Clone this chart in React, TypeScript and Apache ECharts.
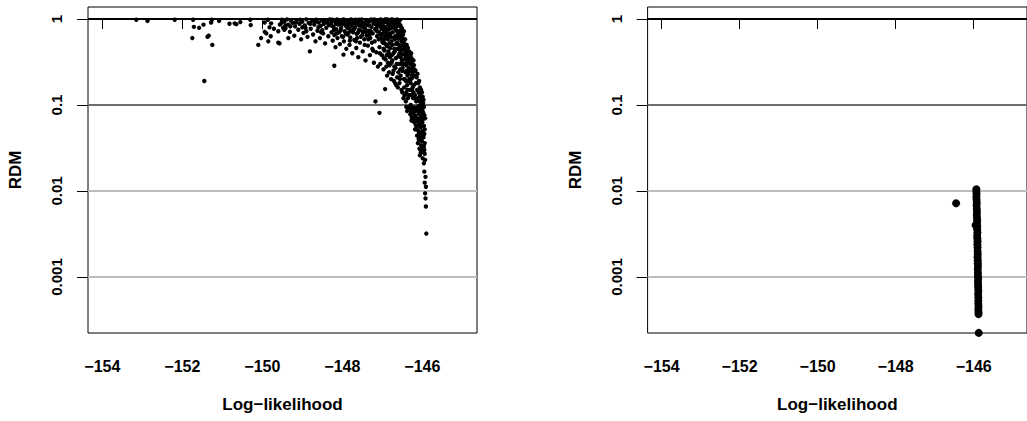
import React, { useEffect, useRef } from "react";
import * as echarts from "echarts";

// Axis ticks and labels
const xTicks = [-154, -152, -150, -148, -146];
const yTickValues = [0.001, 0.01, 0.1, 1];
const yTickLabels = ["0.001", "0.01", "0.1", "1"];
const refLineValues = [1, 0.1, 0.01, 0.001];
const refLineColors = ["#000000", "#6e6e6e", "#bdbdbd", "#bdbdbd"];
const xTitle = "Log\u2212likelihood";
const yTitle = "RDM";

// Left panel: [log-likelihood, RDM]
const leftSparse: number[][] = [
  [-153.15, 0.98], [-152.87, 0.95], [-152.19, 0.98], [-151.73, 0.98], [-151.71, 0.81],
  [-151.58, 0.79], [-151.47, 0.86], [-151.28, 0.91], [-151.26, 0.98], [-151.08, 0.95],
  [-151.75, 0.6], [-151.37, 0.62], [-151.34, 0.64], [-151.25, 0.5], [-151.45, 0.19],
  [-150.82, 0.88], [-150.69, 0.89], [-150.65, 0.87], [-150.55, 0.92], [-150.3, 0.98],
  [-150.29, 0.85], [-149.94, 0.91], [-149.86, 0.98], [-149.78, 0.89], [-149.82, 0.8],
  [-149.71, 0.77], [-149.94, 0.71], [-149.9, 0.68], [-149.79, 0.63], [-150.03, 0.6],
  [-149.57, 0.52], [-149.6, 0.72], [-149.56, 0.86], [-149.52, 0.9], [-149.48, 0.79],
  [-149.45, 0.75], [-149.42, 0.84], [-149.51, 0.98],
];

const leftBand: number[][] = [
  [-149.45, 0.93], [-149.42, 0.78], [-149.38, 0.99], [-149.35, 0.86], [-149.31, 0.71],
  [-149.28, 0.95], [-149.24, 0.9], [-149.2, 0.64], [-149.18, 0.82], [-149.14, 0.97],
  [-149.1, 0.75], [-149.07, 0.88], [-149.03, 0.58], [-149.0, 0.93], [-148.97, 0.69],
  [-148.94, 0.84], [-148.9, 0.99], [-148.87, 0.62], [-148.84, 0.9], [-148.81, 0.42],
  [-148.79, 0.77], [-148.76, 0.95], [-148.73, 0.66], [-148.7, 0.86], [-148.67, 0.55],
  [-148.65, 0.98], [-148.62, 0.73], [-148.59, 0.91], [-148.56, 0.6], [-148.54, 0.83],
  [-148.51, 0.96], [-148.48, 0.68], [-148.46, 0.88], [-148.43, 0.52], [-148.4, 0.79],
  [-148.38, 0.94], [-148.35, 0.63], [-148.33, 0.85], [-148.31, 0.99], [-149.6, 0.53],
  [-149.85, 0.55], [-150.1, 0.5], [-149.35, 0.6], [-149.0, 0.8], [-148.9, 0.72],
  [-148.7, 0.97], [-148.5, 0.74], [-148.2, 0.286], [-147.97, 0.385],
  [-149.3, 0.82], [-149.16, 0.91], [-149.05, 0.98], [-148.92, 0.79], [-148.8, 0.88],
  [-148.68, 0.92], [-148.6, 0.8], [-148.53, 0.7], [-148.44, 0.97], [-148.36, 0.89],
];

const leftDense: number[][] = [
  [-148.28, 0.9], [-148.27, 0.7], [-148.25, 0.98], [-148.24, 0.56], [-148.22, 0.81],
  [-148.2, 0.65], [-148.18, 0.93], [-148.17, 0.47], [-148.15, 0.76], [-148.13, 0.99],
  [-148.12, 0.6], [-148.1, 0.86], [-148.08, 0.7], [-148.06, 0.51], [-148.05, 0.95],
  [-148.03, 0.79], [-148.01, 0.63], [-147.99, 0.88], [-147.97, 0.99], [-147.96, 0.55],
  [-147.94, 0.72], [-147.92, 0.84], [-147.9, 0.45], [-147.89, 0.97], [-147.87, 0.66],
  [-147.85, 0.78], [-147.83, 0.91], [-147.82, 0.5], [-147.8, 0.61], [-147.78, 0.99],
  [-147.77, 0.83], [-147.75, 0.4], [-147.73, 0.7], [-147.72, 0.93], [-147.7, 0.57],
  [-147.68, 0.8], [-147.67, 0.98], [-147.65, 0.46], [-147.64, 0.67], [-147.62, 0.88],
  [-147.6, 0.36], [-147.59, 0.74], [-147.57, 0.95], [-147.56, 0.53], [-147.54, 0.62],
  [-147.52, 0.83], [-147.51, 0.99], [-147.49, 0.42], [-147.48, 0.71], [-147.46, 0.9],
  [-147.45, 0.58], [-147.43, 0.77], [-147.42, 0.33], [-147.4, 0.97], [-147.39, 0.64],
  [-147.37, 0.85], [-147.36, 0.49], [-147.34, 0.73], [-147.33, 0.93], [-147.31, 0.38],
  [-147.3, 0.6], [-147.28, 0.99], [-147.27, 0.81], [-147.25, 0.45], [-147.24, 0.68],
  [-147.22, 0.89], [-147.21, 0.31], [-147.19, 0.55], [-147.18, 0.76], [-147.16, 0.96],
  [-147.15, 0.41], [-147.13, 0.63], [-147.12, 0.86], [-147.11, 0.28], [-148.16, 0.88],
  [-148.09, 0.97], [-147.95, 0.91], [-147.86, 0.87], [-147.79, 0.74], [-147.69, 0.89],
  [-147.61, 0.69], [-147.53, 0.92], [-147.47, 0.8], [-147.38, 0.95], [-147.29, 0.72],
  [-147.2, 0.99], [-147.14, 0.79], [-147.26, 0.53], [-147.35, 0.58], [-147.5, 0.65],
  [-147.63, 0.6], [-147.74, 0.96], [-147.91, 0.67], [-148.04, 0.74],
  [-148.26, 0.83], [-148.21, 0.74], [-148.14, 0.68], [-148.07, 0.92], [-148.02, 0.86],
  [-147.98, 0.62], [-147.93, 0.95], [-147.88, 0.8], [-147.84, 0.69], [-147.81, 0.93],
  [-147.76, 0.88], [-147.71, 0.76], [-147.66, 0.91], [-147.58, 0.84], [-147.55, 0.74],
  [-147.44, 0.86], [-147.41, 0.7], [-147.32, 0.84], [-147.23, 0.95], [-147.17, 0.87],
  [-147.13, 0.72], [-147.1, 0.93], [-147.66, 0.55], [-147.44, 0.5], [-147.23, 0.43],
  [-147.32, 0.66], [-147.58, 0.98], [-147.81, 0.56],
  [-146.93, 0.153], [-147.17, 0.11], [-147.07, 0.081],
  [-147.09, 0.95], [-147.08, 0.7], [-147.07, 0.47], [-147.06, 0.84], [-147.05, 0.3],
  [-147.04, 0.99], [-147.03, 0.6], [-147.02, 0.77], [-147.01, 0.38], [-147.0, 0.9],
  [-146.99, 0.53], [-146.98, 0.68], [-146.97, 0.26], [-146.96, 0.97], [-146.95, 0.43],
  [-146.94, 0.81], [-146.93, 0.62], [-146.92, 0.34], [-146.91, 0.92], [-146.9, 0.5],
  [-146.89, 0.73], [-146.88, 0.22], [-146.87, 0.99], [-146.86, 0.58], [-146.85, 0.86],
  [-146.84, 0.4], [-146.83, 0.66], [-146.82, 0.29], [-146.81, 0.94], [-146.8, 0.46],
  [-146.79, 0.78], [-146.78, 0.2], [-146.77, 0.55], [-146.76, 0.89], [-146.75, 0.33],
  [-146.74, 0.7], [-146.73, 0.98], [-146.72, 0.25], [-146.71, 0.61], [-146.7, 0.83],
  [-146.69, 0.42], [-146.68, 0.18], [-146.67, 0.93], [-146.66, 0.51], [-146.65, 0.74],
  [-146.64, 0.3], [-146.63, 0.99], [-146.62, 0.6], [-146.61, 0.16], [-146.6, 0.37],
  [-147.08, 0.88], [-147.04, 0.66], [-147.0, 0.55], [-146.97, 0.75], [-146.94, 0.98],
  [-146.91, 0.69], [-146.88, 0.48], [-146.85, 0.96], [-146.82, 0.52], [-146.79, 0.62],
  [-146.76, 0.38], [-146.73, 0.8], [-146.7, 0.45], [-146.67, 0.27], [-146.64, 0.86],
  [-146.61, 0.7], [-146.99, 0.85], [-146.95, 0.58], [-146.89, 0.95], [-146.83, 0.85],
  [-146.77, 0.99], [-146.71, 0.91], [-146.66, 0.64], [-146.62, 0.45], [-147.02, 0.93],
  [-146.86, 0.31], [-146.74, 0.23], [-146.69, 0.58], [-146.63, 0.21], [-146.92, 0.8],
  [-147.09, 0.58], [-147.06, 0.4], [-147.03, 0.81], [-147.01, 0.66], [-146.98, 0.9],
  [-146.96, 0.35], [-146.94, 0.52], [-146.92, 0.99], [-146.9, 0.28], [-146.87, 0.64],
  [-146.85, 0.42], [-146.84, 0.76], [-146.81, 0.36], [-146.8, 0.68], [-146.78, 0.88],
  [-146.75, 0.5], [-146.74, 0.92], [-146.72, 0.4], [-146.7, 0.28], [-146.68, 0.77],
  [-146.66, 0.35], [-146.65, 0.97], [-146.63, 0.53], [-146.61, 0.83], [-146.6, 0.24],
  [-146.97, 0.45], [-146.89, 0.38], [-146.83, 0.24], [-146.77, 0.31], [-146.71, 0.19],
  [-146.65, 0.17], [-146.62, 0.3],
];

const leftColumn: number[][] = [
  [-146.59, 0.92], [-146.58, 0.5], [-146.57, 0.72], [-146.56, 0.2], [-146.55, 0.85],
  [-146.54, 0.36], [-146.53, 0.61], [-146.52, 0.15], [-146.51, 0.78], [-146.5, 0.44],
  [-146.49, 0.27], [-146.48, 0.66], [-146.47, 0.12], [-146.46, 0.53], [-146.45, 0.34],
  [-146.44, 0.2], [-146.43, 0.58], [-146.42, 0.41], [-146.41, 0.11], [-146.4, 0.29],
  [-146.39, 0.5], [-146.38, 0.17], [-146.37, 0.36], [-146.36, 0.46], [-146.35, 0.23],
  [-146.34, 0.13], [-146.33, 0.42], [-146.32, 0.31], [-146.31, 0.19], [-146.3, 0.38],
  [-146.29, 0.1], [-146.28, 0.26], [-146.27, 0.35], [-146.26, 0.15], [-146.25, 0.3],
  [-146.24, 0.21], [-146.23, 0.12], [-146.22, 0.33], [-146.21, 0.17], [-146.2, 0.26],
  [-146.58, 0.68], [-146.56, 0.97], [-146.54, 0.81], [-146.52, 0.55], [-146.5, 0.25],
  [-146.48, 0.39], [-146.46, 0.72], [-146.44, 0.47], [-146.42, 0.24], [-146.4, 0.14],
  [-146.38, 0.31], [-146.36, 0.12], [-146.34, 0.27], [-146.32, 0.2], [-146.3, 0.15],
  [-146.28, 0.4], [-146.26, 0.22], [-146.24, 0.28], [-146.22, 0.14], [-146.57, 0.4],
  [-146.53, 0.3], [-146.49, 0.6], [-146.45, 0.16], [-146.41, 0.37], [-146.37, 0.22],
  [-146.33, 0.35], [-146.29, 0.18], [-146.25, 0.24], [-146.59, 0.59], [-146.55, 0.26],
  [-146.59, 0.45], [-146.58, 0.3], [-146.57, 0.18], [-146.56, 0.64], [-146.55, 0.48],
  [-146.54, 0.22], [-146.53, 0.43], [-146.52, 0.7], [-146.51, 0.33], [-146.5, 0.14],
  [-146.49, 0.5], [-146.47, 0.3], [-146.46, 0.2], [-146.45, 0.45], [-146.44, 0.13],
  [-146.43, 0.3], [-146.42, 0.5], [-146.41, 0.19], [-146.39, 0.25], [-146.38, 0.42],
  [-146.37, 0.15], [-146.36, 0.33], [-146.35, 0.4], [-146.34, 0.19], [-146.33, 0.25],
  [-146.32, 0.38], [-146.31, 0.13], [-146.3, 0.3], [-146.28, 0.2], [-146.27, 0.13],
  [-146.26, 0.32], [-146.24, 0.16], [-146.23, 0.25], [-146.21, 0.29], [-146.2, 0.12],
  [-146.19, 0.22], [-146.18, 0.13], [-146.17, 0.25], [-146.16, 0.18], [-146.15, 0.11],
  [-146.14, 0.21], [-146.13, 0.15], [-146.12, 0.23], [-146.11, 0.12], [-146.1, 0.18],
  [-146.09, 0.14], [-146.08, 0.19], [-146.07, 0.11], [-146.06, 0.16], [-146.05, 0.13],
  [-146.04, 0.1], [-146.03, 0.15], [-146.02, 0.12], [-146.01, 0.14], [-146.0, 0.11],
  [-145.99, 0.125], [-145.98, 0.105], [-145.97, 0.115],
  [-146.4, 0.095], [-146.35, 0.09], [-146.3, 0.097], [-146.25, 0.088], [-146.2, 0.094],
  [-146.15, 0.09], [-146.1, 0.097], [-146.05, 0.092], [-146.0, 0.088], [-145.96, 0.095],
  [-146.3, 0.078], [-146.26, 0.072], [-146.22, 0.081], [-146.18, 0.075], [-146.13, 0.07],
  [-146.09, 0.079], [-146.04, 0.073], [-146.0, 0.08], [-145.95, 0.076], [-145.93, 0.07],
  [-146.2, 0.063], [-146.16, 0.058], [-146.12, 0.066], [-146.08, 0.06], [-146.04, 0.055],
  [-146.0, 0.063], [-145.96, 0.057], [-145.94, 0.052], [-146.18, 0.052], [-146.1, 0.05],
  [-146.02, 0.048], [-146.13, 0.044], [-146.09, 0.04], [-146.05, 0.043], [-146.01, 0.038],
  [-145.97, 0.042], [-145.94, 0.036], [-146.11, 0.036], [-146.03, 0.034], [-146.07, 0.031],
  [-146.02, 0.029], [-145.98, 0.032], [-145.94, 0.027], [-146.06, 0.026], [-145.99, 0.024],
  [-145.93, 0.023], [-145.96, 0.021],
  [-146.38, 0.085], [-146.33, 0.093], [-146.28, 0.083], [-146.24, 0.092], [-146.17, 0.085],
  [-146.12, 0.087], [-146.07, 0.084], [-146.02, 0.095], [-145.98, 0.082], [-146.27, 0.066],
  [-146.23, 0.068], [-146.15, 0.065], [-146.06, 0.067], [-145.98, 0.069], [-146.14, 0.054],
  [-146.06, 0.058], [-145.99, 0.05], [-146.08, 0.047], [-146.0, 0.044], [-145.95, 0.046],
  [-146.04, 0.039], [-145.96, 0.033], [-146.0, 0.03], [-145.95, 0.03], [-146.04, 0.028],
];

const leftTail: number[][] = [
  [-145.95, 0.0168], [-145.92, 0.0146], [-145.94, 0.0125], [-145.91, 0.0112],
  [-145.93, 0.0094], [-145.92, 0.0082], [-145.91, 0.0066], [-145.9, 0.0032],
];

// Right panel: [log-likelihood, RDM]
const rightColumn: number[][] = [
  [-145.93, 0.0105], [-145.93, 0.0098], [-145.925, 0.0092], [-145.93, 0.0086],
  [-145.925, 0.0079], [-145.92, 0.0073], [-145.925, 0.0068], [-145.92, 0.0062],
  [-145.915, 0.0057], [-145.92, 0.0053], [-145.915, 0.0049], [-145.91, 0.0045],
  [-145.915, 0.0042], [-145.91, 0.0039], [-145.91, 0.0036], [-145.905, 0.0033],
  [-145.91, 0.003], [-145.905, 0.0028], [-145.9, 0.0026], [-145.905, 0.0024],
  [-145.9, 0.0022], [-145.9, 0.002], [-145.895, 0.00185], [-145.9, 0.0017],
  [-145.895, 0.00157], [-145.895, 0.00145], [-145.89, 0.00134], [-145.895, 0.00123],
  [-145.89, 0.00113], [-145.89, 0.00104], [-145.885, 0.00096], [-145.89, 0.00088],
  [-145.885, 0.00081], [-145.885, 0.00075], [-145.88, 0.00069], [-145.885, 0.00063],
  [-145.88, 0.00058], [-145.88, 0.00053], [-145.88, 0.00049], [-145.875, 0.00045],
  [-145.88, 0.00042], [-145.875, 0.00039], [-145.875, 0.00037],
];
const rightOutliers: number[][] = [
  [-146.45, 0.0072], [-145.95, 0.004], [-145.87, 0.000224],
];

const FONT = "'Liberation Sans', Arial, Helvetica, sans-serif";

function toLog(points: number[][]) {
  return points.map((p) => [p[0], Math.log10(p[1])]);
}

function yLabel(v: number) {
  const i = yTickValues.findIndex((t) => Math.abs(Math.log10(t) - v) < 1e-6);
  return i >= 0 ? yTickLabels[i] : "";
}

export default function App() {
  const ref = useRef<HTMLDivElement>(null);

  useEffect(() => {
    if (!ref.current) return;
    const chart = echarts.init(ref.current, undefined, { renderer: "svg" });

    const yMin = -3.651;
    const yMax = 0.1395;
    const xMin = -154.3575;
    const xMax = -144.6325;

    const makeX = (gridIndex: number) => ({
      type: "value",
      gridIndex,
      min: xMin,
      max: xMax,
      axisLine: { show: false },
      splitLine: { show: false },
      axisTick: {
        show: true,
        length: 10,
        inside: false,
        customValues: xTicks,
        lineStyle: { color: "#000", width: 1 },
      },
      axisLabel: {
        show: true,
        customValues: xTicks,
        margin: 25,
        color: "#000",
        fontWeight: "bold",
        fontSize: 16,
        fontFamily: FONT,
        formatter: (v: number) => String(v).replace("-", "\u2212"),
      },
      name: xTitle,
      nameLocation: "middle",
      nameGap: 63,
      nameTextStyle: {
        color: "#000",
        fontWeight: "bold",
        fontSize: 17,
        fontFamily: FONT,
      },
    });

    const logTicks = yTickValues.map((v) => Math.log10(v));
    const makeY = (gridIndex: number) => ({
      type: "value",
      gridIndex,
      min: yMin,
      max: yMax,
      axisLine: { show: false },
      splitLine: { show: false },
      axisTick: {
        show: true,
        length: 11,
        inside: false,
        customValues: logTicks,
        lineStyle: { color: "#000", width: 1 },
      },
      axisLabel: {
        show: true,
        customValues: logTicks,
        rotate: 90,
        margin: 24,
        color: "#000",
        fontWeight: "bold",
        fontSize: 15,
        fontFamily: FONT,
        formatter: (v: number) => yLabel(v),
      },
      name: yTitle,
      nameLocation: "middle",
      nameRotate: 90,
      nameGap: 64,
      nameTextStyle: {
        color: "#000",
        fontWeight: "bold",
        fontSize: 17,
        fontFamily: FONT,
      },
    });

    const refLines = {
      silent: true,
      symbol: ["none", "none"],
      z: 1,
      label: { show: false },
      data: refLineValues.map((v, i) => ({
        yAxis: Math.log10(v),
        lineStyle: { color: refLineColors[i], width: 2, type: "solid", opacity: 1 },
      })),
    };

    const leftData = toLog([
      ...leftSparse,
      ...leftBand,
      ...leftDense,
      ...leftColumn,
      ...leftTail,
    ]);
    const rightData = toLog([...rightColumn, ...rightOutliers]);

    chart.setOption({
      animation: false,
      backgroundColor: "#ffffff",
      grid: [
        {
          left: 88,
          top: 7,
          width: 389,
          height: 326,
          show: true,
          borderColor: "#000",
          borderWidth: 1,
          backgroundColor: "transparent",
        },
        {
          left: 647.6,
          top: 7,
          width: 389,
          height: 326,
          show: true,
          borderColor: "#000",
          borderWidth: 1,
          backgroundColor: "transparent",
        },
      ],
      xAxis: [makeX(0), makeX(1)],
      yAxis: [makeY(0), makeY(1)],
      series: [
        {
          type: "scatter",
          xAxisIndex: 0,
          yAxisIndex: 0,
          data: leftData,
          symbol: "circle",
          symbolSize: 4.4,
          itemStyle: { color: "#000", opacity: 1 },
          silent: true,
          z: 3,
          markLine: refLines,
        },
        {
          type: "scatter",
          xAxisIndex: 1,
          yAxisIndex: 1,
          data: rightData,
          symbol: "circle",
          symbolSize: 8,
          itemStyle: { color: "#000", opacity: 1 },
          silent: true,
          z: 3,
          markLine: refLines,
        },
      ],
    });

    return () => chart.dispose();
  }, []);

  return (
    <div
      ref={ref}
      style={{ position: "absolute", left: 0, top: 0, width: 1027, height: 421 }}
    />
  );
}
